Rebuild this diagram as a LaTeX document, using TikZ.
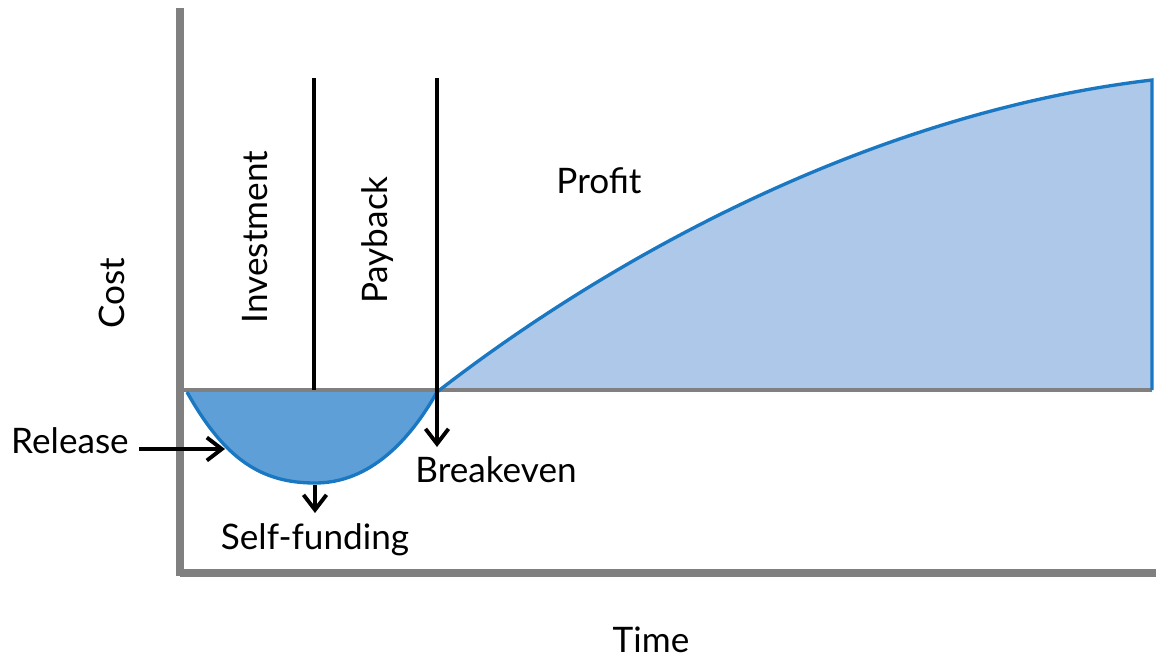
\documentclass[tikz,border=0pt]{standalone}
\usepackage{fontspec}
\setmainfont{Lato}
\usetikzlibrary{arrows.meta}
\definecolor{axisgray}{HTML}{808080}
\definecolor{dipblue}{HTML}{5F9FD8}
\definecolor{profitblue}{HTML}{ADC8E8}
\definecolor{curveblue}{HTML}{1A78C2}
\tikzset{
  axisline/.style={line width=4pt, color=axisgray},
  zeroline/.style={line width=2.8pt, color=axisgray},
  curveline/.style={line width=1.9pt, color=curveblue},
  markline/.style={line width=2.2pt, color=black},
  arrowline/.style={line width=2.2pt, color=black, -{Straight Barb[length=3mm,width=4.6mm]}},
  lbl/.style={font=\fontsize{20}{24}\selectfont, inner sep=1pt}
}

\begin{document}
\begin{tikzpicture}[x=0.02cm, y=-0.02cm]
			%%%%% START %%%%%
			\useasboundingbox (0, 0) rectangle (1156, 660);
			
			\coordinate (origin) at (180, 390);
			\coordinate (topleft) at (180, 8);
			\coordinate (bottomleft) at (180, 576);
			\coordinate (bottomright) at (1156, 573);
			\coordinate (zeroend) at (1152, 390);
			\coordinate (start) at (187, 392);
			\coordinate (low) at (315, 483);
			\coordinate (even) at (437, 392);
			\coordinate (peak) at (1152, 80);
			
			% areas
			\fill[dipblue] (start) .. controls (225, 460) and (262, 483) .. (low)
			  .. controls (370, 483) and (410, 440) .. (even) -- cycle;
			\fill[profitblue] (even) .. controls (620, 250) and (880, 112) .. (peak) -- (zeroend) -- cycle;
			
			% axes
			\draw[axisline] (topleft) -- (bottomleft);
			\draw[axisline] (180, 573) -- (bottomright);
			\draw[zeroline] (origin) -- (zeroend);
			
			% curves
			\draw[curveline] (start) .. controls (225, 460) and (262, 483) .. (low)
			  .. controls (370, 483) and (410, 440) .. (even);
			\draw[curveline] (even) .. controls (620, 250) and (880, 112) .. (peak) -- (zeroend);
			
			% phase lines
			\coordinate (invtop) at (314, 78);
			\coordinate (invbot) at (314, 390);
			\coordinate (paytop) at (437, 78);
			\coordinate (paytip) at (437, 447);
			\draw[markline] (invtop) -- (invbot);
			\draw[arrowline] (paytop) -- (paytip);
			
			% labels
			\node[lbl, rotate=90] (cost) at (112, 293) {Cost};
			\node[lbl, rotate=90] (investment) at (255, 237) {Investment};
			\node[lbl, rotate=90] (payback) at (378, 240) {Payback};
			\node[lbl] (profit) at (599, 181) {Profit};
			\node[lbl] (release) at (70, 441) {Release};
			\node[lbl] (breakeven) at (496, 470) {Breakeven};
			\node[lbl] (selffunding) at (315, 540) {Self-funding};
			\node[lbl] (time) at (651, 640) {Time};
			
			% arrows
			\coordinate (releasetip) at (225, 449);
			\coordinate (fundtip) at (315, 513);
			\draw[arrowline] (release.east |- releasetip) ++(8, 0) -- (releasetip);
			\draw[arrowline] (low) ++(0, 2) -- (fundtip);
			
			%%%%% END %%%%%
		\end{tikzpicture}
\end{document}
